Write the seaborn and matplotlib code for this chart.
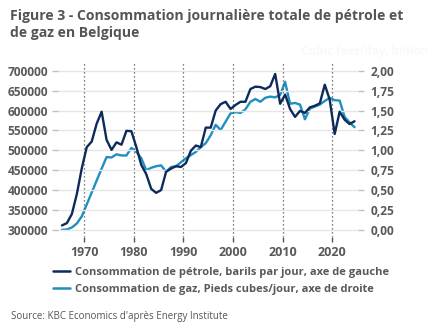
import matplotlib
matplotlib.use("Agg")
import matplotlib.pyplot as plt
import seaborn as sns
import pandas as pd
from matplotlib.lines import Line2D

sns.set_theme(style="white")
plt.rcParams['font.family'] = ['Open Sans', 'DejaVu Sans']

years = list(range(1965, 2025))

oil = [311000, 317000, 340000, 390000, 455000, 508000, 522000, 567000, 597000, 526000,
       501000, 520000, 514000, 549000, 548000, 508000, 463000, 440000, 403000, 393000,
       400000, 446000, 454000, 460000, 458000, 468000, 499000, 512000, 508000, 557000,
       557000, 600000, 616000, 622000, 604000, 614000, 622000, 622000, 654000, 660000,
       659000, 654000, 661000, 692000, 617000, 640000, 604000, 584000, 599000, 594000,
       608000, 612000, 618000, 665000, 627000, 541000, 597000, 577000, 566000, 573000]

gas = [0.0, 0.005, 0.03, 0.08, 0.17, 0.32, 0.47, 0.62, 0.77, 0.915,
       0.91, 0.95, 0.935, 0.935, 1.03, 0.98, 0.90, 0.75, 0.78, 0.80,
       0.81, 0.73, 0.79, 0.80, 0.85, 0.90, 0.94, 0.98, 1.04, 1.09,
       1.19, 1.32, 1.255, 1.36, 1.465, 1.48, 1.47, 1.515, 1.61, 1.645,
       1.61, 1.66, 1.675, 1.665, 1.696, 1.86, 1.585, 1.595, 1.575, 1.39,
       1.525, 1.55, 1.575, 1.62, 1.66, 1.63, 1.625, 1.42, 1.35, 1.29]

left_ticks = [300000, 350000, 400000, 450000, 500000, 550000, 600000, 650000, 700000]
right_ticks = [0.0, 0.25, 0.5, 0.75, 1.0, 1.25, 1.5, 1.75, 2.0]
decades = [1970, 1980, 1990, 2000, 2010, 2020]

title = "Figure 3 - Consommation journalière totale de pétrole et\nde gaz en Belgique"
label_oil = "Consommation de pétrole, barils par jour, axe de gauche"
label_gas = "Consommation de gaz, Pieds cubes/jour, axe de droite"
source = "Source: KBC Economics d'après Energy Institute"
faint = "Cubic feet/day, billion"

df = pd.DataFrame({"year": years, "oil": oil, "gas": gas})
df["x"] = df["year"] + 0.5  # annual values plotted at mid-year

C_OIL = "#0d2a5a"
C_GAS = "#1f8fc0"
TXT = "#595959"

fig = plt.figure(figsize=(4.32, 3.34), dpi=100)
ax = fig.add_axes([58/432, 1-237/334, 300/432, 175/334])
ax2 = ax.twinx()

for a in (ax, ax2):
    for s in a.spines.values():
        s.set_visible(False)

ax.set_zorder(ax2.get_zorder() + 1)
ax.patch.set_visible(False)

for y in left_ticks:
    ax.axhline(y, color="#e6e6e6", lw=1.0, zorder=0)
for d in decades:
    ax.axvline(d, color="#555555", lw=0.9, ls=(0, (1, 2.2)), zorder=1)

sns.lineplot(data=df, x="x", y="gas", ax=ax2, color=C_GAS, lw=1.7, zorder=2)
sns.lineplot(data=df, x="x", y="oil", ax=ax, color=C_OIL, lw=1.7, zorder=3)

ax.set_xlim(1964.7, 2025.2)
ax.set_ylim(282000, 722000)
ax2.set_ylim(-0.09, 2.11)

ax.set_xticks(decades)
ax.set_xticklabels([str(d) for d in decades])
ax.set_yticks(left_ticks)
ax.set_yticklabels([str(v) for v in left_ticks])
ax2.set_yticks(right_ticks)
ax2.set_yticklabels([f"{v:.2f}".replace(".", ",") for v in right_ticks])

ax.set_xlabel("")
ax.set_ylabel("")
ax2.set_ylabel("")

ax.tick_params(axis="x", length=3.5, width=1, color="#555555", pad=3,
               labelsize=9, labelcolor=TXT, bottom=True)
ax.tick_params(axis="y", length=4, width=1, color="#c0c0c0", pad=3,
               labelsize=8.6, labelcolor=TXT, left=True)
ax2.tick_params(axis="y", length=4, width=1, color="#c0c0c0", pad=5,
                labelsize=8.6, labelcolor=TXT, right=True)
for lab in ax.get_xticklabels() + ax.get_yticklabels() + ax2.get_yticklabels():
    lab.set_fontweight("bold")

fig.text(10/432, 1-9/334, title, ha="left", va="top", fontsize=10.1,
         fontweight="bold", color="#555555", linespacing=1.3)
fig.text(428/432, 1-52/334, faint, ha="right", va="center", fontsize=8.5,
         fontweight="bold", color="#f9f9f9")

handles = [Line2D([0], [0], color=C_OIL, lw=1.8), Line2D([0], [0], color=C_GAS, lw=1.8)]
leg = fig.legend(handles, [label_oil, label_gas], loc="center left",
                 bbox_to_anchor=(43/432, 1-281/334), frameon=False,
                 handlelength=1.55, handletextpad=0.45, labelspacing=0.6,
                 prop={"size": 8.0, "weight": "bold"})
for t in leg.get_texts():
    t.set_color(TXT)

fig.text(11/432, 1-316/334, source, ha="left", va="center", fontsize=7.0, color="#555555")

fig.savefig("out.png", dpi=100)
